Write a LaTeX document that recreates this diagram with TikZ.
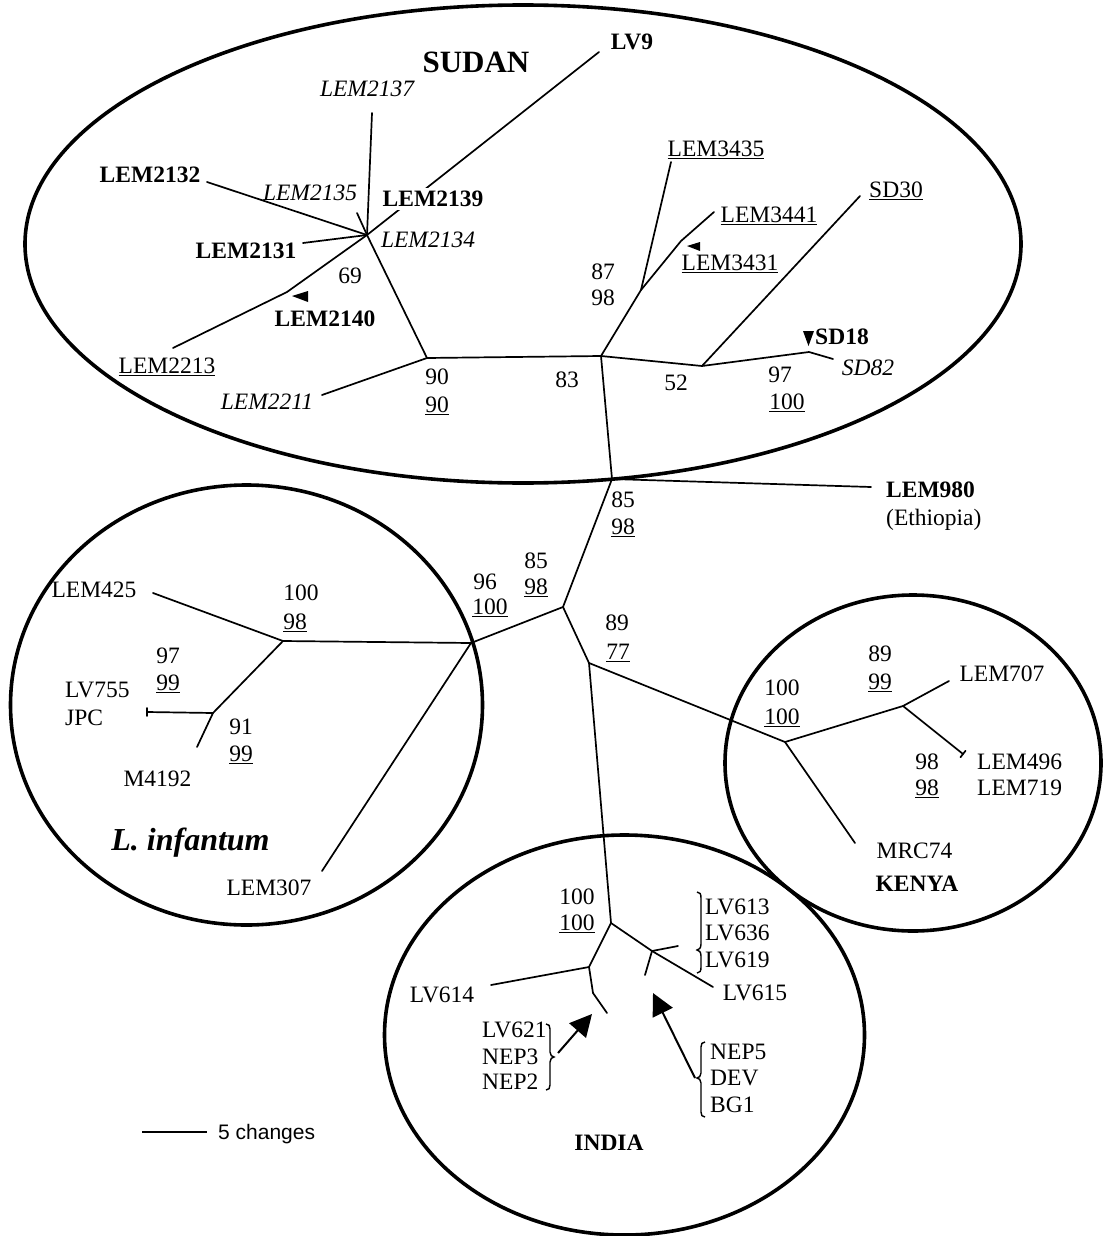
\documentclass[tikz,border=0pt]{standalone}
\usepackage{fontspec}
\setmainfont{Liberation Serif}
\newfontfamily\sansf{Liberation Sans}
\usetikzlibrary{arrows.meta}
\begin{document}
\begin{tikzpicture}[x=1pt,y=-1pt,
  every node/.style={inner sep=0pt, text height=15.5pt, text depth=0pt, font=\fontsize{23.5}{28}\selectfont},
  br/.style={line width=1.7pt, line cap=round, line join=round},
  ring/.style={line width=3.6pt},
  lb/.style={font=\fontsize{23.5}{28}\selectfont\bfseries},
  li/.style={font=\fontsize{23.5}{28}\selectfont\itshape},
  arrowhd/.style={fill=black},
  brc/.style={line width=1.4pt},
  bigarrow/.style={line width=2pt, -{Triangle[length=22pt,width=22pt]}},
  ]
\useasboundingbox (0,0) rectangle (1104,1236);
\fill[white] (0,0) rectangle (1104,1236);

% cluster outlines
\draw[ring] (523,244) ellipse [x radius=498pt, y radius=239pt];
\draw[ring] (246.5,705) ellipse [x radius=236pt, y radius=220pt];
\draw[ring] (913,763) ellipse [x radius=188pt, y radius=168pt];
\draw[ring] (624.5,1035) ellipse [x radius=240pt, y radius=200pt];

% tree coordinates
\coordinate (H1) at (367,235);
\coordinate (e2137) at (372,113);
\coordinate (e2132) at (207,182);
\coordinate (e2135) at (357,213);
\coordinate (e9) at (599,52);
\coordinate (e2131) at (303,243);
\coordinate (n2140) at (287,292);
\coordinate (e2213) at (173,348);
\coordinate (n90) at (427,358);
\coordinate (e2211) at (322,395);
\coordinate (n83) at (601,356);
\coordinate (n87) at (641,290);
\coordinate (e3435) at (671,162);
\coordinate (n3431) at (681,241);
\coordinate (e3441) at (714,212);
\coordinate (n52) at (702,366);
\coordinate (e30) at (860,196);
\coordinate (n97) at (809,352);
\coordinate (e82) at (833,359);
\coordinate (n85) at (612,479);
\coordinate (e980) at (871,487);
\coordinate (nc) at (563,607);
\coordinate (n96) at (471,643);
\coordinate (n100) at (283,641);
\coordinate (e425) at (153,593);
\coordinate (n91) at (213,713);
\coordinate (e755) at (147,712);
\coordinate (e4192) at (197,747);
\coordinate (e307) at (322,871);
\coordinate (n89) at (589,663);
\coordinate (nk100) at (785,742);
\coordinate (nk89) at (903,706);
\coordinate (e707) at (949,681);
\coordinate (e496) at (963,754);
\coordinate (e74) at (855,843);
\coordinate (ni100) at (611,923);
\coordinate (nil) at (589,967);
\coordinate (e614) at (491,985);
\coordinate (b621) at (593,993);
\coordinate (e621) at (607,1013);
\coordinate (nir) at (652,951);
\coordinate (e615) at (713,987);
\coordinate (e613) at (678,946);
\coordinate (e5) at (645,975);

% branches
\draw[br] (H1) -- (e2137);
\draw[br] (H1) -- (e2132);
\draw[br] (H1) -- (e2135);
\draw[br] (H1) -- (e9);
\draw[br] (H1) -- (e2131);
\draw[br] (H1) -- (n2140) -- (e2213);
\draw[br] (H1) -- (n90) -- (n83);
\draw[br] (n90) -- (e2211);
\draw[br] (n83) -- (n87) -- (e3435);
\draw[br] (n87) -- (n3431) -- (e3441);
\draw[br] (n83) -- (n52) -- (n97) -- (e82);
\draw[br] (n52) -- (e30);
\draw[br] (n83) -- (n85) -- (e980);
\draw[br] (n85) -- (nc) -- (n96) -- (n100) -- (e425);
\draw[br] (n100) -- (n91) -- (e755);
\draw[br] (n91) -- (e4192);
\draw[br] (n96) -- (e307);
\draw[br] (nc) -- (n89) -- (nk100) -- (nk89) -- (e707);
\draw[br] (nk89) -- (e496);
\draw[br] (nk100) -- (e74);
\draw[br] (n89) -- (ni100) -- (nil) -- (e614);
\draw[br] (nil) -- (b621) -- (e621);
\draw[br] (ni100) -- (nir) -- (e615);
\draw[br] (nir) -- (e613);
\draw[br] (nir) -- (e5);
% small end ticks
\draw[br] ([yshift=-4pt]e755) -- ([yshift=4pt]e755);
\draw[br] ([shift={(-2.5,3.2)}]e496) -- ([shift={(2.5,-3.2)}]e496);

% small pointers
\fill[arrowhd] (292,296) -- (308,291) -- (308,302) -- cycle;
\fill[arrowhd] (687,246) -- (700,242) -- (700,251) -- cycle;
\fill[arrowhd] (803,331) -- (814,331) -- (808.5,346) -- cycle;

% SUDAN labels
\node[font=\fontsize{31}{36}\selectfont\bfseries, text height=21pt] (sudan) at (476,62) {SUDAN};
\node[lb] (lv9) at (632,42) {LV9};
\node[li] (l2137) at (367,89) {LEM2137};
\node[lb] (l2132) at (150,175) {LEM2132};
\node[li] (l2135) at (310,193) {LEM2135};
\node[lb, fill=white, inner sep=3pt] (l2139) at (433,199) {LEM2139};
\node[lb] (l2131) at (246,251) {LEM2131};
\node[li] (l2134) at (428,240) {LEM2134};
\node (b69) at (350,276) {69};
\node[lb] (l2140) at (325,319) {LEM2140};
\node (l2213) at (167,366) {\underline{LEM2213}};
\node[li] (l2211) at (267,402) {LEM2211};
\node (b90a) at (437,377) {90};
\node (b90b) at (437,405) {\underline{90}};
\node (b83) at (567,380) {83};
\node (b87) at (603,272) {87};
\node (b98s) at (603,298) {98};
\node (l3435) at (716,149) {\underline{LEM3435}};
\node (l3441) at (769,215) {\underline{LEM3441}};
\node (l3431) at (730,263) {\underline{LEM3431}};
\node (lsd30) at (896,190) {\underline{SD30}};
\node (b52) at (676,383) {52};
\node[lb] (lsd18) at (842,337) {SD18};
\node[li] (lsd82) at (868,368) {SD82};
\node (b97s) at (780,375) {97};
\node (b100s) at (787,402) {\underline{100}};

% middle
\node[lb, anchor=west] (l980) at (886,490) {LEM980};
\node[anchor=west] (leth) at (886,518) {(Ethiopia)};
\node (b85a) at (623,500) {85};
\node (b98a) at (623,527) {\underline{98}};
\node (b85b) at (536,561) {85};
\node (b98b) at (536,587) {\underline{98}};
\node (b96) at (485,582) {96};
\node (b100c) at (490,607) {\underline{100}};
\node (b89) at (617,623) {89};
\node (b77) at (618,652) {\underline{77}};

% L. infantum
\node (l425) at (94,590) {LEM425};
\node (b100i) at (301,593) {100};
\node (b98i) at (295,622) {\underline{98}};
\node (b97i) at (168,656) {97};
\node (b99i) at (168,683) {\underline{99}};
\node[anchor=west] (l755) at (65,690) {LV755};
\node[anchor=west] (ljpc) at (65,718) {JPC};
\node (b91) at (241,727) {91};
\node (b99j) at (241,754) {\underline{99}};
\node (l4192) at (157.5,779) {M4192};
\node[font=\fontsize{32}{38}\selectfont\bfseries\itshape, text height=22pt] (linf) at (190.5,839) {L. infantum};
\node (l307) at (269,888) {LEM307};

% Kenya
\node (b89k) at (880,654) {89};
\node (b99k) at (880,682) {\underline{99}};
\node (b100k) at (782,688) {100};
\node (b100kk) at (782,717) {\underline{100}};
\node (l707) at (1002,674) {LEM707};
\node (b98k) at (927,762) {98};
\node (b98kk) at (927,788) {\underline{98}};
\node[anchor=west] (l496) at (977,762) {LEM496};
\node[anchor=west] (l719) at (977,788) {LEM719};
\node (l74) at (914.5,851) {MRC74};
\node[lb] (lkenya) at (917,884) {KENYA};

% India
\node (b100n) at (577,897) {100};
\node (b100nn) at (577,923) {\underline{100}};
\node[anchor=west] (l613) at (705,907) {LV613};
\node[anchor=west] (l636) at (705,933) {LV636};
\node[anchor=west] (l619) at (705,960) {LV619};
\node (l614) at (442,995) {LV614};
\node (l615) at (755,993) {LV615};
\node[anchor=west] (l621) at (482,1030) {LV621};
\node[anchor=west] (lnep3) at (482,1057) {NEP3};
\node[anchor=west] (lnep2) at (482,1082) {NEP2};
\node[anchor=west] (lnep5) at (710,1052) {NEP5};
\node[anchor=west] (ldev) at (710,1078) {DEV};
\node[anchor=west] (lbg1) at (710,1105) {BG1};
\node[lb] (lindia) at (609,1143) {INDIA};

% braces
\draw[brc] (697,892) .. controls (700,892) and (701,894) .. (701,898) -- (701,944)
  .. controls (701,948) and (699,950) .. (697,950) .. controls (699,950) and (701,952) .. (701,956)
  -- (701,967) .. controls (701,971) and (700,973) .. (697,973);
\draw[brc] (546,1024) .. controls (549,1024) and (550,1026) .. (550,1029) -- (550,1052)
  .. controls (550,1055) and (552,1057) .. (554,1057) .. controls (552,1057) and (550,1059) .. (550,1062)
  -- (550,1085) .. controls (550,1088) and (549,1090) .. (546,1090);
\draw[brc] (705,1042) .. controls (702,1042) and (701,1044) .. (701,1047) -- (701,1073)
  .. controls (701,1076) and (699,1078) .. (697,1078) .. controls (699,1078) and (701,1080) .. (701,1083)
  -- (701,1112) .. controls (701,1115) and (702,1117) .. (705,1117);

% big arrows
\coordinate (a1s) at (558,1053);
\coordinate (a1t) at (592,1014);
\coordinate (a2s) at (695,1078);
\coordinate (a2t) at (653,993);
\draw[bigarrow] (a1s) -- (a1t);
\draw[bigarrow] (a2s) -- (a2t);

% scale bar
\coordinate (sb1) at (142,1132);
\coordinate (sb2) at (207,1132);
\draw[line width=2.6pt] (sb1) -- (sb2);
\node[anchor=west, font=\fontsize{21}{25}\selectfont\sansf, text height=15pt] (sbl) at (218,1132) {5 changes};
\end{tikzpicture}
\end{document}
